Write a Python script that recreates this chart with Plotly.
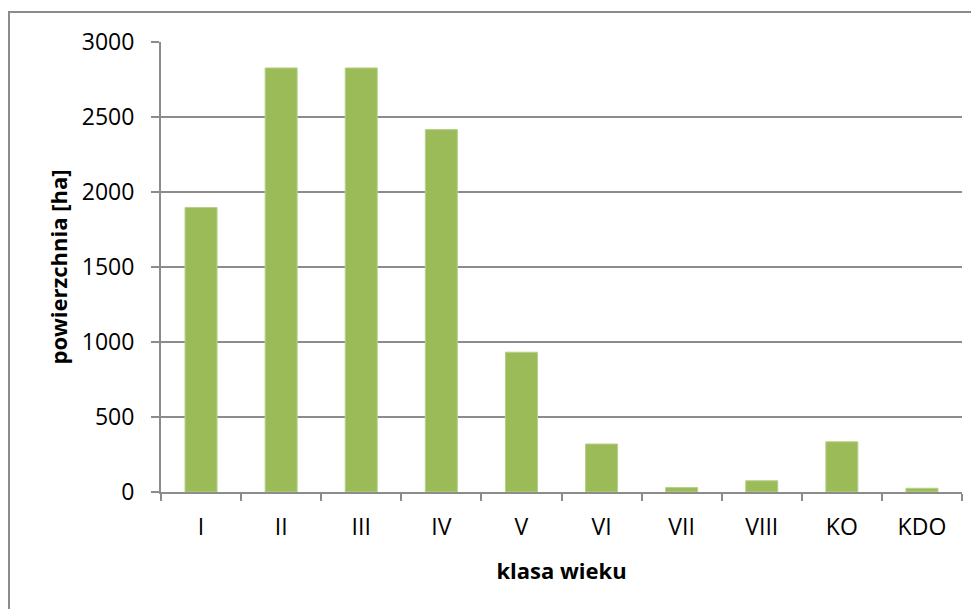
"""Bar chart: powierzchnia wg klasy wieku."""

import plotly.graph_objects as go

klasy = ["I", "II", "III", "IV", "V", "VI", "VII", "VIII", "KO", "KDO"]
powierzchnia = [1897, 2827, 2827, 2416, 932, 320, 30, 75, 335, 25]

y_ticks = [0, 500, 1000, 1500, 2000, 2500, 3000]

FONT = "Open Sans"
GRID = "#8c8c8c"

fig = go.Figure(
    go.Bar(
        x=klasy,
        y=powierzchnia,
        width=0.4,
        marker={"color": "#9BBB59", "line": {"color": "#B7D08A", "width": 1}},
        hovertemplate="%{x}: %{y}<extra></extra>",
    )
)

fig.update_layout(
    width=979,
    height=609,
    # page body has an 8px margin, so the plot area is shifted by that
    margin={"l": 153, "r": 25, "t": 34, "b": 125},
    plot_bgcolor="white",
    paper_bgcolor="white",
    showlegend=False,
    font={"family": FONT, "size": 23, "color": "black"},
    xaxis={
        "title": {"text": "<b>klasa wieku</b>", "font": {"size": 22}, "standoff": 23},
        "showline": True,
        "linecolor": GRID,
        "linewidth": 2,
        "ticks": "outside",
        "tickson": "boundaries",
        "ticklen": 7,
        "tickcolor": GRID,
        "tickwidth": 2,
        "tickfont": {"size": 23},
        "ticklabelstandoff": 13,
    },
    yaxis={
        "title": {"text": "<b>powierzchnia [ha]</b>", "font": {"size": 22}, "standoff": 8},
        "range": [0, 3000],
        "tickvals": y_ticks,
        "showgrid": True,
        "gridcolor": GRID,
        "gridwidth": 2,
        "showline": True,
        "linecolor": GRID,
        "linewidth": 2,
        "ticks": "outside",
        "ticklen": 8,
        "tickcolor": GRID,
        "tickwidth": 2,
        "tickfont": {"size": 23},
        "ticklabelstandoff": 12,
        "zeroline": False,
    },
    shapes=[
        {
            "type": "rect",
            "xref": "paper",
            "yref": "paper",
            "x0": -152 / 801,
            "x1": 1.1,
            "y0": -0.3,
            "y1": 1 + 30 / 450,
            "line": {"color": "#8c8c8c", "width": 2},
            "fillcolor": "rgba(0,0,0,0)",
            "layer": "below",
        }
    ],
)

fig.write_html("out.html")
